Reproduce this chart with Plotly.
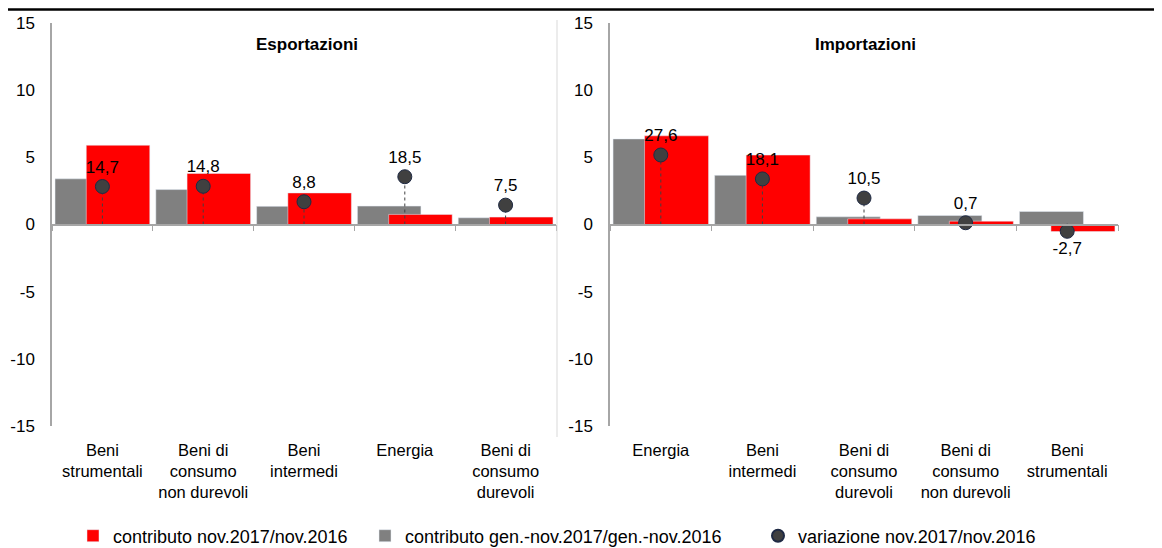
import plotly.graph_objects as go

# ---------------- data ----------------
exp_categories = ["Beni<br>strumentali", "Beni di<br>consumo<br>non durevoli", "Beni<br>intermedi",
                  "Energia", "Beni di<br>consumo<br>durevoli"]
exp_contrib_nov = [5.9, 3.8, 2.35, 0.75, 0.55]
exp_contrib_gennov = [3.4, 2.6, 1.35, 1.37, 0.5]
exp_variazione = [14.7, 14.8, 8.8, 18.5, 7.5]

imp_categories = ["Energia", "Beni<br>intermedi", "Beni di<br>consumo<br>durevoli",
                  "Beni di<br>consumo<br>non durevoli", "Beni<br>strumentali"]
imp_contrib_nov = [6.6, 5.17, 0.42, 0.25, -0.52]
imp_contrib_gennov = [6.37, 3.66, 0.57, 0.67, 0.97]
imp_variazione = [27.6, 18.1, 10.5, 0.7, -2.7]

y_ticks = [-15, -10, -5, 0, 5, 10, 15]
legend_names = ["contributo nov.2017/nov.2016",
                "contributo gen.-nov.2017/gen.-nov.2016",
                "variazione nov.2017/nov.2016"]
titles = ["Esportazioni", "Importazioni"]

# ---------------- style ----------------
FONT = "Liberation Sans, Arial, sans-serif"
RED = "#ff0000"
GREY = "#808080"
DOT = "#404040"
AXIS = "#a6a6a6"
W, H = 1162, 548
OFF = 8  # page body margin: the figure starts 8px right/down in the window


def px(x):
    """screen x pixel -> paper fraction"""
    return (x - OFF) / W


def py(y):
    """screen y pixel (from top) -> paper fraction"""
    return (H - (y - OFF)) / H


fig = go.Figure()


def fmt(v):
    return f"{v:.1f}".replace(".", ",")


def add_panel(cats, nov, gennov, var, xa, ya, xz, yz, first):
    # grey bars (behind)
    fig.add_trace(go.Bar(x=cats, y=gennov, xaxis=xa, yaxis=ya, marker_color=GREY,
                         width=0.63, offset=-0.47, name=legend_names[1],
                         showlegend=first, legend="legend2", hoverinfo="skip"))
    # red bars (front)
    fig.add_trace(go.Bar(x=cats, y=nov, xaxis=xa, yaxis=ya, marker_color=RED,
                         width=0.63, offset=-0.16, name=legend_names[0],
                         showlegend=first, legend="legend", hoverinfo="skip"))
    # drop lines
    lx, ly = [], []
    for c, v in zip(cats, var):
        lx += [c, c, None]
        ly += [0, v, None]
    fig.add_trace(go.Scatter(x=lx, y=ly, xaxis=xz, yaxis=yz, mode="lines",
                             line=dict(color=DOT, width=1, dash="dot"),
                             showlegend=False, hoverinfo="skip"))
    # dots
    fig.add_trace(go.Scatter(x=cats, y=var, xaxis=xz, yaxis=yz, mode="markers",
                             marker=dict(color=DOT, size=14, line=dict(color="#1f2a44", width=1)),
                             name=legend_names[2], showlegend=first, legend="legend3",
                             hoverinfo="skip"))
    # labels (invisible markers of same size so the text clears the dot)
    fig.add_trace(go.Scatter(x=cats, y=var, xaxis=xz, yaxis=yz, mode="markers+text",
                             marker=dict(size=14, opacity=0),
                             text=[fmt(v) for v in var],
                             textposition=["top center" if v >= 0 else "bottom center" for v in var],
                             textfont=dict(family=FONT, size=17, color="black"),
                             showlegend=False, hoverinfo="skip"))


add_panel(exp_categories, exp_contrib_nov, exp_contrib_gennov, exp_variazione,
          "x", "y", "x3", "y2", True)
add_panel(imp_categories, imp_contrib_nov, imp_contrib_gennov, imp_variazione,
          "x2", "y3", "x4", "y4", False)

ydom = [py(426), py(23)]
zero_pos = (ydom[0] + ydom[1]) / 2
left_dom = [px(52), px(556)]
right_dom = [px(610), px(1118)]

label_axis = dict(type="category", range=[-0.5, 4.5], showline=False, ticks="",
                  showgrid=False, zeroline=False, tickfont=dict(family=FONT, size=16.5, color="black"),
                  ticklabelstandoff=12, fixedrange=True)
zero_axis = dict(type="category", range=[-0.5, 4.5], showline=True, linecolor=AXIS, linewidth=1.5,
                 ticks="outside", tickson="boundaries", ticklen=6, tickcolor=AXIS,
                 showticklabels=False, showgrid=False, zeroline=False, anchor="free",
                 position=zero_pos, fixedrange=True)
prim_y = dict(range=[-15, 15], tickvals=y_ticks, ticktext=[str(t) for t in y_ticks],
              showgrid=False, zeroline=False,
              showline=True, linecolor=AXIS, linewidth=1.5, ticks="",
              tickfont=dict(family=FONT, size=17, color="black"), ticklabelstandoff=12,
              domain=ydom, fixedrange=True)

legend_common = dict(orientation="h", yanchor="middle", xanchor="left",
                     font=dict(family=FONT, size=18), bgcolor="rgba(0,0,0,0)")

fig.update_layout(
    width=W, height=H, margin=dict(l=0, r=0, t=0, b=0, autoexpand=False),
    paper_bgcolor="white", plot_bgcolor="rgba(0,0,0,0)",
    barmode="overlay", font=dict(family=FONT, size=17, color="black"),
    xaxis=dict(label_axis, domain=left_dom, anchor="y", categoryarray=exp_categories,
               categoryorder="array"),
    xaxis2=dict(label_axis, domain=right_dom, anchor="y3", categoryarray=imp_categories,
                categoryorder="array"),
    xaxis3=dict(zero_axis, overlaying="x", categoryarray=exp_categories, categoryorder="array"),
    xaxis4=dict(zero_axis, overlaying="x2", categoryarray=imp_categories, categoryorder="array"),
    yaxis=dict(prim_y, anchor="x"),
    yaxis3=dict(prim_y, anchor="x2"),
    yaxis2=dict(overlaying="y", anchor="x3", range=[-78, 78], visible=False, fixedrange=True),
    yaxis4=dict(overlaying="y3", anchor="x4", range=[-80, 80], visible=False, fixedrange=True),
    legend=dict(legend_common, x=px(73), y=py(536)),
    legend2=dict(legend_common, x=px(365), y=py(536)),
    legend3=dict(legend_common, x=px(758), y=py(536), itemsizing="constant"),
    annotations=[
        dict(text=f"<b>{titles[0]}</b>", x=px(307), y=py(44), xref="paper", yref="paper",
             xanchor="center", yanchor="middle", showarrow=False,
             font=dict(family=FONT, size=17, color="black")),
        dict(text=f"<b>{titles[1]}</b>", x=px(865), y=py(44), xref="paper", yref="paper",
             xanchor="center", yanchor="middle", showarrow=False,
             font=dict(family=FONT, size=17, color="black")),
    ],
    shapes=[
        dict(type="line", xref="paper", yref="paper", x0=0, x1=1, y0=py(9.5), y1=py(9.5),
             line=dict(color="black", width=2.5)),
        dict(type="line", xref="paper", yref="paper", x0=px(557), x1=px(557), y0=py(20), y1=py(437),
             line=dict(color="#d9d9d9", width=1)),
    ],
)

fig.write_html("out.html")
